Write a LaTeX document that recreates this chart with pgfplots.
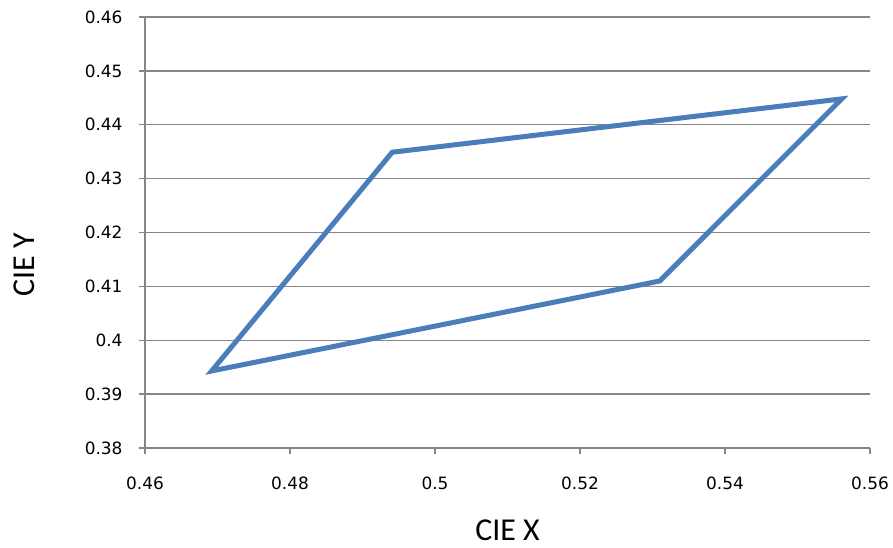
\documentclass[border=0pt]{standalone}
\usepackage{fontspec}
\setmainfont{DejaVu Sans}
\newfontfamily\labelfont{Carlito}
\usepackage{pgfplots}
\pgfplotsset{compat=1.18}
\definecolor{xlblue}{RGB}{74,126,187}
\definecolor{xlgrid}{RGB}{134,134,134}

\begin{document}
\begin{tikzpicture}
    \useasboundingbox (-145bp,-100bp) rectangle (748bp,448bp);
    \begin{axis}[
            scale only axis,
            width=725bp,
            height=431bp,
            xmin=0.46, xmax=0.56,
            ymin=0.38, ymax=0.46,
            xtick={0.46,0.48,0.5,0.52,0.54,0.56},
            ytick={0.38,0.39,0.4,0.41,0.42,0.43,0.44,0.45,0.46},
            axis lines=left,
            axis line style={-, draw=xlgrid, line width=1.4bp},
            tick align=outside,
            major tick length=6bp,
            tick style={draw=xlgrid, line width=1.4bp},
            ymajorgrids,
            major grid style={draw=xlgrid, line width=1.4bp},
            /pgf/number format/assume math mode=true,
            ticklabel style={font=\fontsize{17}{20}\selectfont, text=black},
            xticklabel style={yshift=-19bp},
            yticklabel style={xshift=-13bp},
            xlabel={CIE X},
            ylabel={CIE Y},
            label style={font=\labelfont\fontsize{32}{36}\selectfont, text=black},
            xlabel style={at={(axis description cs:0.5,-0.19)}, anchor=center},
            ylabel style={at={(axis description cs:-0.166,0.425)}, anchor=center},
        ]
        \addplot[
            color=xlblue,
            line width=5bp,
            line join=miter,
            no marks
        ]
        coordinates {
                (0.4692, 0.3943)
                (0.4941, 0.4349)
                (0.5561, 0.4448)
                (0.5310, 0.4110)
                (0.4692, 0.3943)
            } -- cycle;
    \end{axis}
\end{tikzpicture}
\end{document}
